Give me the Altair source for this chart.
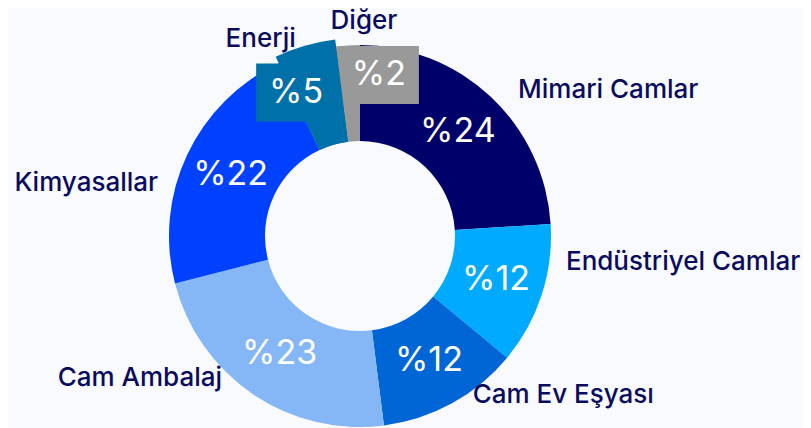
import altair as alt
import pandas as pd

# ---- data ----
categories = ["Mimari Camlar", "Endüstriyel Camlar", "Cam Ev Eşyası", "Cam Ambalaj",
              "Kimyasallar", "Enerji", "Diğer"]
shares = [24, 12, 12, 23, 22, 5, 2]
pct_labels = ["%24", "%12", "%12", "%23", "%22", "%5", "%2"]

# ---- style / layout ----
colors = ["#00006b", "#00aaff", "#0066d6", "#85b6f5", "#0040ff", "#0070a8", "#999999"]
BG = "#f8fafe"
TXT = "#0b0b5e"
W, H = 795, 412
CX, CY = 352, 225
R_OUT, R_IN, R_POP = 191, 95, 198
BOX_W, BOX_H = 80, 58
name_shift_deg = [4.7, -10.0, -6.1, 9.4, -11.3, -10.5, 4.65]
name_radius = [213, 208, 197, 200, 208, 221, 215]
pct_shift_deg = [0, 0, 0, 0, 0, -7.8, 10.3]
pct_radius = [143, 143, 143, 143, 143, 157, 162]
popped = ["Enerji"]

df = pd.DataFrame({
    "idx": list(range(len(categories))),
    "cat": categories,
    "share": shares,
    "pct": pct_labels,
    "nshift": name_shift_deg,
    "nr": name_radius,
    "pshift": pct_shift_deg,
    "pr": pct_radius,
})

xs = alt.Scale(domain=[-CX, W - CX], nice=False, zero=False)
ys = alt.Scale(domain=[CY - H, CY], nice=False, zero=False)
color_scale = alt.Scale(domain=categories, range=colors)

arc_enc = dict(
    theta=alt.Theta("share:Q", stack=True),
    order=alt.Order("idx:Q", sort="ascending"),
    color=alt.Color("cat:N", scale=color_scale, legend=None),
    x=alt.value(CX),
    y=alt.value(CY),
)

arcs = alt.Chart(df).mark_arc(outerRadius=R_OUT, innerRadius=R_IN).encode(**arc_enc)
pop = alt.Chart(df).mark_arc(outerRadius=R_POP, innerRadius=R_IN).encode(
    opacity=alt.condition(alt.FieldOneOfPredicate(field="cat", oneOf=popped),
                          alt.value(1), alt.value(0)),
    **arc_enc,
)

pos = (
    alt.Chart(df)
    .transform_window(cum="sum(share)", sort=[alt.SortField("idx")], frame=[None, 0])
    .transform_joinaggregate(total="sum(share)")
    .transform_calculate(mid="(datum.cum - datum.share / 2) / datum.total * 2 * PI")
    .transform_calculate(
        pa="datum.mid + datum.pshift * PI / 180",
        la="datum.mid + datum.nshift * PI / 180",
    )
    .transform_calculate(
        px="datum.pr * sin(datum.pa)",
        py="datum.pr * cos(datum.pa)",
        lx="datum.nr * sin(datum.la)",
        ly="datum.nr * cos(datum.la)",
        side="sin(datum.la) > 0.5 ? 'left' : (sin(datum.la) < -0.5 ? 'right' : 'center')",
    )
    .transform_calculate(
        bx1=f"datum.px - {BOX_W / 2}", bx2=f"datum.px + {BOX_W / 2}",
        by1=f"datum.py - {BOX_H / 2}", by2=f"datum.py + {BOX_H / 2}",
    )
)


def box(cat):
    return pos.transform_filter(alt.FieldEqualPredicate(field="cat", equal=cat)).mark_rect().encode(
        x=alt.X("bx1:Q", scale=xs, axis=None), x2="bx2:Q",
        y=alt.Y("by1:Q", scale=ys, axis=None), y2="by2:Q",
        color=alt.Color("cat:N", scale=color_scale, legend=None),
    )


box_d = box("Diğer")
box_e = box("Enerji")

pct = pos.mark_text(font="Inter", fontSize=34, fontWeight=400, color="white",
                    align="center", baseline="middle").encode(
    x=alt.X("px:Q", scale=xs, axis=None),
    y=alt.Y("py:Q", scale=ys, axis=None),
    text="pct:N",
)


def names(side, dy):
    return pos.transform_filter(alt.FieldEqualPredicate(field="side", equal=side)).mark_text(
        font="Inter", fontSize=26, fontWeight=500, color=TXT, align=side, baseline="middle", dy=dy
    ).encode(
        x=alt.X("lx:Q", scale=xs, axis=None),
        y=alt.Y("ly:Q", scale=ys, axis=None),
        text="cat:N",
    )


chart = alt.layer(
    arcs, box_d, pop, box_e, pct, names("left", -3), names("right", -3), names("center", 0)
).properties(width=W, height=H, padding=0, background=BG).configure_view(stroke=None)

chart.save("out.html", embed_options={"renderer": "svg", "actions": False})
